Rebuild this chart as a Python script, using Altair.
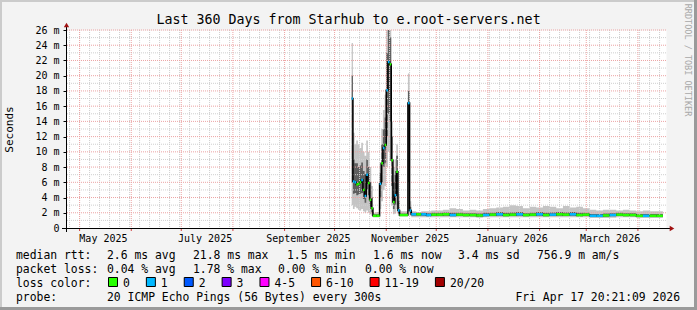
import altair as alt
import pandas as pd

FONT = "DejaVu Sans Mono"
L, T, W, H = 66, 30, 600, 198
TOTAL_W, TOTAL_H = 697, 310

title_text = "Last 360 Days from Starhub to e.root-servers.net"

# ---------------- data ----------------
sample_time = [
    "2025-10-11T06:00", "2025-10-12T00:00", "2025-10-13T00:00", "2025-10-14T00:00",
    "2025-10-15T00:00", "2025-10-16T00:00", "2025-10-17T00:00", "2025-10-18T00:00",
    "2025-10-19T00:00", "2025-10-20T00:00", "2025-10-21T00:00", "2025-10-22T00:00",
    "2025-10-23T00:00", "2025-10-24T00:00", "2025-10-26T00:00", "2025-10-28T00:00",
    "2025-10-29T00:00", "2025-10-30T00:00", "2025-10-31T00:00", "2025-11-01T00:00",
    "2025-11-02T00:00", "2025-11-03T00:00", "2025-11-04T00:00", "2025-11-05T00:00",
    "2025-11-06T00:00", "2025-11-07T00:00", "2025-11-08T00:00", "2025-11-09T00:00",
    "2025-11-14T00:00", "2025-11-15T00:00",
    "2025-11-16T00:00", "2025-11-19T00:00", "2025-11-22T00:00", "2025-11-25T00:00",
    "2025-11-28T00:00", "2025-12-01T00:00", "2025-12-05T00:00", "2025-12-09T00:00",
    "2025-12-13T00:00", "2025-12-17T00:00", "2025-12-21T00:00", "2025-12-25T00:00",
    "2025-12-29T00:00", "2026-01-02T00:00", "2026-01-06T00:00", "2026-01-10T00:00",
    "2026-01-14T00:00", "2026-01-18T00:00", "2026-01-22T00:00", "2026-01-26T00:00",
    "2026-01-30T00:00", "2026-02-03T00:00", "2026-02-07T00:00", "2026-02-11T00:00",
    "2026-02-15T00:00", "2026-02-19T00:00", "2026-02-23T00:00", "2026-02-27T00:00",
    "2026-03-03T00:00", "2026-03-07T00:00", "2026-03-11T00:00", "2026-03-15T00:00",
    "2026-03-19T00:00", "2026-03-23T00:00", "2026-03-27T00:00", "2026-03-31T00:00",
    "2026-04-04T00:00", "2026-04-08T00:00", "2026-04-12T00:00",
]
data_end = "2026-04-16T00:00"

median_ms = [
    17.0, 6.1, 6.0, 5.7, 5.8, 6.0, 6.3, 5.0, 4.2, 7.0, 5.9, 3.7, 2.6, 1.6, 1.6, 5.8,
    8.5, 10.5, 10.9, 18.1, 21.8, 21.5, 8.9, 3.4, 4.3, 7.4, 2.3, 1.7, 16.4, 2.3,
    1.8, 1.8, 1.8, 1.7, 1.75, 1.75, 1.8, 1.7, 1.75, 1.7, 1.7, 1.65, 1.7, 1.75, 1.8,
    1.7, 1.75, 1.8, 1.7, 1.75, 1.8, 1.7, 1.75, 1.8, 1.75, 1.8, 1.7, 1.75, 1.6, 1.6,
    1.65, 1.7, 1.75, 1.7, 1.7, 1.6, 1.6, 1.6, 1.6,
]
smoke_min_ms = [
    3.0, 2.5, 2.8, 2.6, 2.4, 2.3, 2.5, 2.2, 2.0, 2.3, 2.0, 1.8, 1.6, 1.4, 1.4, 2.5,
    3.5, 5.0, 5.5, 8.0, 10.0, 9.0, 3.0, 1.8, 1.9, 2.5, 1.6, 1.5, 2.5, 1.6,
    1.4, 1.4, 1.4, 1.4, 1.4, 1.4, 1.4, 1.4, 1.4, 1.4, 1.4, 1.35, 1.4, 1.4, 1.4,
    1.4, 1.4, 1.4, 1.4, 1.4, 1.4, 1.4, 1.4, 1.4, 1.4, 1.4, 1.4, 1.4, 1.3, 1.3,
    1.3, 1.35, 1.4, 1.4, 1.4, 1.3, 1.3, 1.3, 1.3,
]
smoke_max_ms = [
    24.3, 12.5, 11.0, 11.5, 11.0, 10.5, 11.2, 10.0, 9.5, 11.5, 10.0, 8.0, 5.5, 2.0, 2.1, 8.5,
    13.0, 15.5, 17.5, 27.0, 27.0, 27.0, 14.0, 8.0, 9.0, 11.0, 4.5, 2.2, 20.3, 3.5,
    2.2, 2.1, 2.2, 2.2, 2.3, 2.3, 2.4, 2.6, 2.5, 2.3, 2.4, 2.3, 2.5, 2.6, 2.7,
    2.8, 3.0, 2.9, 2.6, 2.8, 2.7, 2.9, 2.8, 2.6, 2.9, 2.7, 2.8, 2.6, 2.4, 2.3,
    2.4, 2.4, 2.3, 2.4, 2.3, 2.2, 2.3, 2.2, 2.2,
]
core_lo_ms = [
    6.0, 4.5, 4.6, 4.3, 4.4, 4.5, 4.6, 3.8, 3.3, 5.0, 4.3, 2.8, 2.0, 1.5, 1.5, 4.0,
    6.0, 8.0, 8.5, 12.0, 15.0, 14.0, 5.5, 2.5, 3.0, 4.5, 1.9, 1.6, 6.0, 1.9,
    1.6, 1.6, 1.6, 1.55, 1.6, 1.6, 1.6, 1.55, 1.6, 1.55, 1.55, 1.5, 1.55, 1.6, 1.6,
    1.55, 1.6, 1.6, 1.55, 1.6, 1.6, 1.55, 1.6, 1.6, 1.6, 1.6, 1.55, 1.6, 1.45, 1.45,
    1.5, 1.55, 1.6, 1.55, 1.55, 1.45, 1.45, 1.45, 1.45,
]
core_hi_ms = [
    20.0, 9.0, 8.5, 8.5, 8.0, 8.2, 8.6, 7.5, 7.0, 9.0, 8.0, 6.0, 4.0, 1.8, 1.8, 7.2,
    11.0, 13.0, 14.5, 23.0, 26.0, 25.0, 12.0, 6.0, 7.0, 9.5, 3.5, 1.9, 18.0, 2.8,
    2.0, 2.0, 2.0, 1.95, 2.0, 2.0, 2.05, 2.0, 2.0, 1.95, 1.95, 1.9, 2.0, 2.0, 2.1,
    2.0, 2.05, 2.1, 1.95, 2.0, 2.1, 2.0, 2.05, 2.1, 2.05, 2.1, 2.0, 2.0, 1.85, 1.85,
    1.9, 1.95, 2.0, 1.95, 1.95, 1.85, 1.85, 1.85, 1.85,
]
lost_pings = [
    1, 1, 1, 0, 0, 0, 1, 0, 1, 1, 0, 0, 0, 0, 0, 1,
    0, 1, 0, 1, 1, 0, 0, 0, 1, 0, 1, 0, 1, 1,
    1, 0, 1, 1, 0, 0, 0, 1, 0, 0, 0, 0, 1, 0, 1,
    0, 0, 1, 0, 0, 1, 0, 1, 0, 0, 1, 0, 0, 1, 1,
    0, 1, 0, 0, 0, 0, 1, 0, 0,
]

loss_labels = ["0", "1", "2", "3", "4-5", "6-10", "11-19", "20/20"]
loss_upper = [0, 1, 2, 3, 5, 10, 19, 20]
loss_colors = ["#26ff00", "#00b8ff", "#0059ff", "#7e00ff", "#ff00ff", "#ff5500", "#ff0000", "#a10000"]

y_major = [0, 2, 4, 6, 8, 10, 12, 14, 16, 18, 20, 22, 24, 26]
y_minor = [1, 3, 5, 7, 9, 11, 13, 15, 17, 19, 21, 23, 25]
month_starts = ["2025-05-01", "2025-06-01", "2025-07-01", "2025-08-01", "2025-09-01",
                "2025-10-01", "2025-11-01", "2025-12-01", "2026-01-01", "2026-02-01",
                "2026-03-01", "2026-04-01"]
x_label_dates = [(2025, 5), (2025, 7), (2025, 9), (2025, 11), (2026, 1), (2026, 3)]

stats_rows = [
    ("median rtt:", [("2.6 ms avg", 107), ("21.8 ms max", 193), ("1.5 ms min", 287),
                     ("1.6 ms now", 373), ("3.4 ms sd", 458), ("756.9 m am/s", 537)]),
    ("packet loss:", [("0.04 % avg", 107), ("1.78 % max", 193), ("0.00 % min", 278),
                      ("0.00 % now", 365)]),
]
probe_text = "20 ICMP Echo Pings (56 Bytes) every 300s"
stamp_text = "Fri Apr 17 20:21:09 2026"

# ---------------- frames ----------------
def bucket_color(n):
    for up, col in zip(loss_upper, loss_colors):
        if n <= up:
            return col
    return loss_colors[-1]

df = pd.DataFrame({
    "t": pd.to_datetime(sample_time),
    "median": median_ms,
    "smin": smoke_min_ms,
    "smax": smoke_max_ms,
    "clo": core_lo_ms,
    "chi": core_hi_ms,
    "loss": lost_pings,
})
df["t_end"] = list(df["t"].iloc[1:]) + [pd.Timestamp(data_end)]
df["color"] = [bucket_color(n) for n in df["loss"]]
last = df.iloc[[-1]].copy()
last["t"] = pd.Timestamp(data_end)
area_df = pd.concat([df, last], ignore_index=True)

xscale = alt.Scale(domain=[
    alt.DateTime(year=2025, month=4, date=22, hours=20, minutes=21, seconds=9),
    alt.DateTime(year=2026, month=4, date=17, hours=20, minutes=21, seconds=9),
])
yscale = alt.Scale(domain=[0, 26], nice=False, zero=True)

x_axis = alt.Axis(
    values=[alt.DateTime(year=y, month=m, date=15) for y, m in x_label_dates],
    format="%B %Y", labelFont=FONT, labelFontSize=10, labelColor="#000000",
    ticks=False, domain=False, grid=False, labelPadding=13, labelBaseline="alphabetic",
    labelOverlap=False, labelFlush=False, title=" ")
y_axis = alt.Axis(
    values=y_major, labelExpr="datum.value == 0 ? '0' : datum.value + ' m'",
    labelFont=FONT, labelFontSize=10, labelColor="#000000", domain=False, grid=False,
    ticks=True, tickSize=3, tickColor="#000000", labelPadding=4,
    title="Seconds", titleFont=FONT, titleFontSize=11, titleFontWeight="normal",
    titleColor="#000000", titleX=-57, titleY=H / 2, titleBaseline="middle",
    titleAlign="center", titleAngle=270)


def X(field):
    return alt.X(field, scale=xscale, axis=x_axis)


def Y(field):
    return alt.Y(field, scale=yscale, axis=y_axis)


GRID_MINOR = "#cfcfcf"
GRID_MAJOR = "#eca3a3"

week_df = pd.DataFrame({"d": pd.date_range("2025-04-25", "2026-04-16", freq="6D")})
month_df = pd.DataFrame({"d": pd.to_datetime(month_starts)})

vminor = alt.Chart(week_df).mark_rule(color=GRID_MINOR, strokeDash=[1, 1], strokeWidth=1).encode(x=X("d:T"))
hminor = alt.Chart(pd.DataFrame({"v": y_minor})).mark_rule(color=GRID_MINOR, strokeDash=[1, 1], strokeWidth=1).encode(y=Y("v:Q"))
vmajor = alt.Chart(month_df).mark_rule(color=GRID_MAJOR, strokeDash=[1, 1], strokeWidth=1).encode(x=X("d:T"))
hmajor = alt.Chart(pd.DataFrame({"v": y_major[1:]})).mark_rule(color=GRID_MAJOR, strokeDash=[1, 1], strokeWidth=1).encode(y=Y("v:Q"))
mticks = alt.Chart(month_df).mark_rule(color="#d04040", strokeWidth=1).encode(
    x=X("d:T"), y=alt.value(H), y2=alt.value(H + 3))

smoke_outer = alt.Chart(area_df).mark_area(interpolate="step-after", color="#c4c4c4", clip=True).encode(
    x=X("t:T"), y=Y("smin:Q"), y2="smax:Q")
smoke_core = alt.Chart(area_df).mark_area(interpolate="step-after", color="#5e5e5e", clip=True).encode(
    x=X("t:T"), y=Y("clo:Q"), y2="chi:Q")
median_line = alt.Chart(area_df).mark_line(interpolate="step-after", color="#000000", strokeWidth=1.5, clip=True).encode(
    x=X("t:T"), y=Y("median:Q"))
median_col = alt.Chart(df).mark_rule(strokeWidth=2.5, strokeCap="butt", clip=True).encode(
    x=X("t:T"), x2="t_end:T", y=Y("median:Q"),
    color=alt.Color("color:N", scale=None, legend=None))

one = pd.DataFrame({"k": [0]})


def txt(s, x, y, size=11.4, color="#000000", align="left", baseline="alphabetic", angle=0):
    return alt.Chart(one).mark_text(
        text=s, font=FONT, fontSize=size, color=color, align=align,
        baseline=baseline, angle=angle, clip=False
    ).encode(x=alt.value(x - L), y=alt.value(y - T))


def box(x0, y0, x1, y1, fill, stroke=None):
    kw = {"color": fill, "clip": False}
    if stroke:
        kw.update(stroke=stroke, strokeWidth=1)
    return alt.Chart(one).mark_rect(**kw).encode(
        x=alt.value(x0 - L), x2=alt.value(x1 - L), y=alt.value(y0 - T), y2=alt.value(y1 - T))


deco = []
# frame shading
deco.append(box(0, 0, TOTAL_W, 2, "#cbcbcb"))
deco.append(box(0, 0, 2, TOTAL_H, "#cbcbcb"))
deco.append(box(TOTAL_W - 3, 0, TOTAL_W, TOTAL_H, "#9a9a9a"))
deco.append(box(0, TOTAL_H - 3, TOTAL_W, TOTAL_H, "#9a9a9a"))

# axes lines and arrows
deco.append(alt.Chart(one).mark_rule(color="#000000", strokeWidth=1, clip=False).encode(
    x=alt.value(-4), x2=alt.value(W + 6), y=alt.value(H + 0.5)))
deco.append(alt.Chart(one).mark_rule(color="#000000", strokeWidth=1, clip=False).encode(
    x=alt.value(0.5), y=alt.value(H + 4), y2=alt.value(-5)))
deco.append(alt.Chart(one).mark_point(shape="triangle-right", filled=True, color="#a01010", size=28, opacity=1, clip=False).encode(
    x=alt.value(W + 6), y=alt.value(H + 0.5)))
deco.append(alt.Chart(one).mark_point(shape="triangle-up", filled=True, color="#a01010", size=28, opacity=1, clip=False).encode(
    x=alt.value(0.5), y=alt.value(-5)))

# title and credit
deco.append(txt(title_text, 348.5, 24, size=13.3, align="center"))
deco.append(txt("RRDTOOL / TOBI OETIKER", 688, 60, size=8.5, color="#a8a8a8", align="center",
                baseline="middle", angle=90))

# statistics rows
row_y = [258.5, 272.5, 286.5, 300.5]
for (label, parts), yy in zip(stats_rows, row_y):
    deco.append(txt(label, 16, yy))
    for s, xx in parts:
        deco.append(txt(s, xx, yy))

# loss colour legend
deco.append(txt("loss color:", 16, row_y[2]))
bx = 108
for lab, col in zip(loss_labels, loss_colors):
    deco.append(box(bx + 0.5, 277.5, bx + 9.5, 286.5, col, stroke="#000000"))
    deco.append(txt(lab, bx + 15, row_y[2]))
    bx = bx + 15 + len(lab) * 6.87 + 16

deco.append(txt("probe:", 16, row_y[3]))
deco.append(txt(probe_text, 107, row_y[3]))
deco.append(txt(stamp_text, 680, row_y[3], align="right"))

chart = alt.layer(
    smoke_outer, smoke_core, vminor, hminor, vmajor, hmajor, mticks,
    median_line, median_col, *deco
).properties(
    width=W, height=H,
    padding={"left": L, "top": T, "right": TOTAL_W - L - W, "bottom": TOTAL_H - T - H},
    autosize=alt.AutoSizeParams(type="none"),
).configure(background="#f3f3f3").configure_view(fill="#ffffff", strokeOpacity=0)

chart.save("out.html", embed_options={"renderer": "svg", "actions": False})
